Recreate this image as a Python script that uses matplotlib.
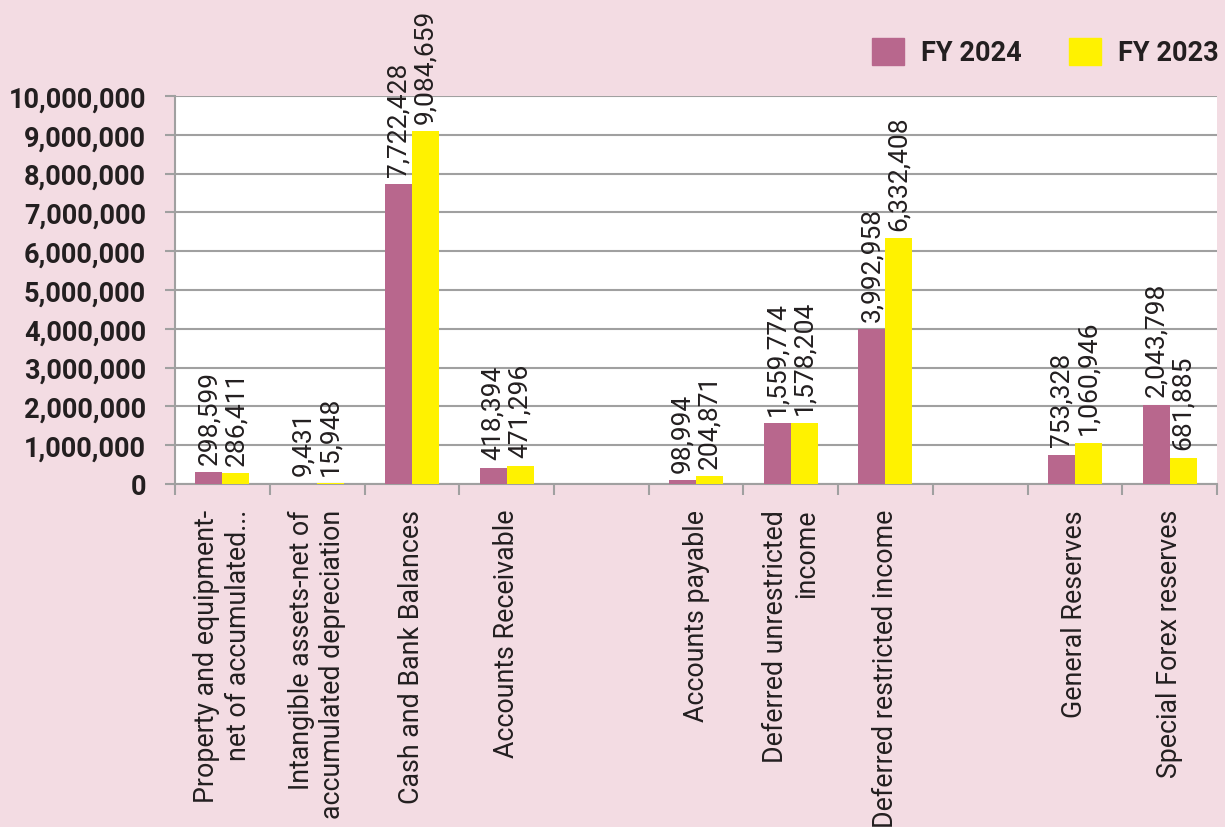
import numpy as np
import matplotlib
matplotlib.use('Agg')
import matplotlib.pyplot as plt
from matplotlib.patches import Patch

plt.rcParams['font.family'] = ['Roboto', 'DejaVu Sans']

# data (two empty slots kept as gaps)
categories = ['Property and equipment-\nnet of accumulated...',
              'Intangible assets-net of\naccumulated depreciation',
              'Cash and Bank Balances',
              'Accounts Receivable',
              '',
              'Accounts payable',
              'Deferred unrestricted\nincome',
              'Deferred restricted income',
              '',
              'General Reserves',
              'Special Forex reserves']
fy2024 = [298599, 9431, 7722428, 418394, None, 98994, 1559774, 3992958, None, 753328, 2043798]
fy2023 = [286411, 15948, 9084659, 471296, None, 204871, 1578204, 6332408, None, 1060946, 681885]

bg = '#F3DCE3'
c24 = '#B8678D'
c23 = '#FFF200'
txt = '#231F20'
grid_c = '#A0A0A0'

fig = plt.figure(figsize=(12.25, 8.28), dpi=100, facecolor=bg)
ax = fig.add_axes([0.1429, 0.4143, 0.8506, 0.4686])
ax.set_facecolor('white')

x = np.arange(len(categories))
w = 0.285
for i in range(len(categories)):
    if fy2024[i] is None:
        continue
    ax.bar(x[i] - w / 2, fy2024[i], w, color=c24, zorder=3)
    ax.bar(x[i] + w / 2, fy2023[i], w, color=c23, zorder=3)
    for xx, v in [(x[i] - w / 2, fy2024[i]), (x[i] + w / 2, fy2023[i])]:
        ax.annotate(f'{v:,}', (xx, v), xytext=(0, 6), textcoords='offset points',
                    rotation=90, ha='center', va='bottom', fontsize=19,
                    color=txt, annotation_clip=False, zorder=4)

ax.set_xlim(-0.5, len(categories) - 0.5)
ax.set_ylim(0, 10000000)
ax.set_yticks(np.arange(0, 10000001, 1000000))
ax.set_yticklabels([f'{int(t):,}' for t in ax.get_yticks()], fontsize=19.5,
                   fontweight='bold', color=txt)
ax.yaxis.grid(True, color=grid_c, linewidth=1.5, zorder=0)
ax.tick_params(axis='y', length=7, width=1.5, color=grid_c, pad=14)

# boundary ticks as major, labels as minor at centres
ax.set_xticks(np.arange(-0.5, len(categories), 1))
ax.set_xticklabels([])
ax.tick_params(axis='x', which='major', length=8, width=1.5, color=grid_c)
ax.set_xticks(x, minor=True)
ax.set_xticklabels(categories, minor=True, rotation=90, fontsize=19.3, color=txt,
                   ha='center', va='top', multialignment='right')
ax.tick_params(axis='x', which='minor', length=0, pad=18)

for s in ['top', 'right']:
    ax.spines[s].set_visible(False)
for s in ['left', 'bottom']:
    ax.spines[s].set_color(grid_c)
    ax.spines[s].set_linewidth(1.5)

handles = [Patch(color=c24, label='FY 2024'), Patch(color=c23, label='FY 2023')]
leg = fig.legend(handles=handles, loc='center right', bbox_to_anchor=(0.995, 0.936),
                 ncol=2, frameon=False, handlelength=1.15, handleheight=1.15,
                 handletextpad=0.65, columnspacing=1.75, borderpad=0, borderaxespad=0,
                 prop={'size': 19.5, 'weight': 'bold'})
for t in leg.get_texts():
    t.set_color(txt)

fig.savefig('out.png', dpi=100, facecolor=bg)
